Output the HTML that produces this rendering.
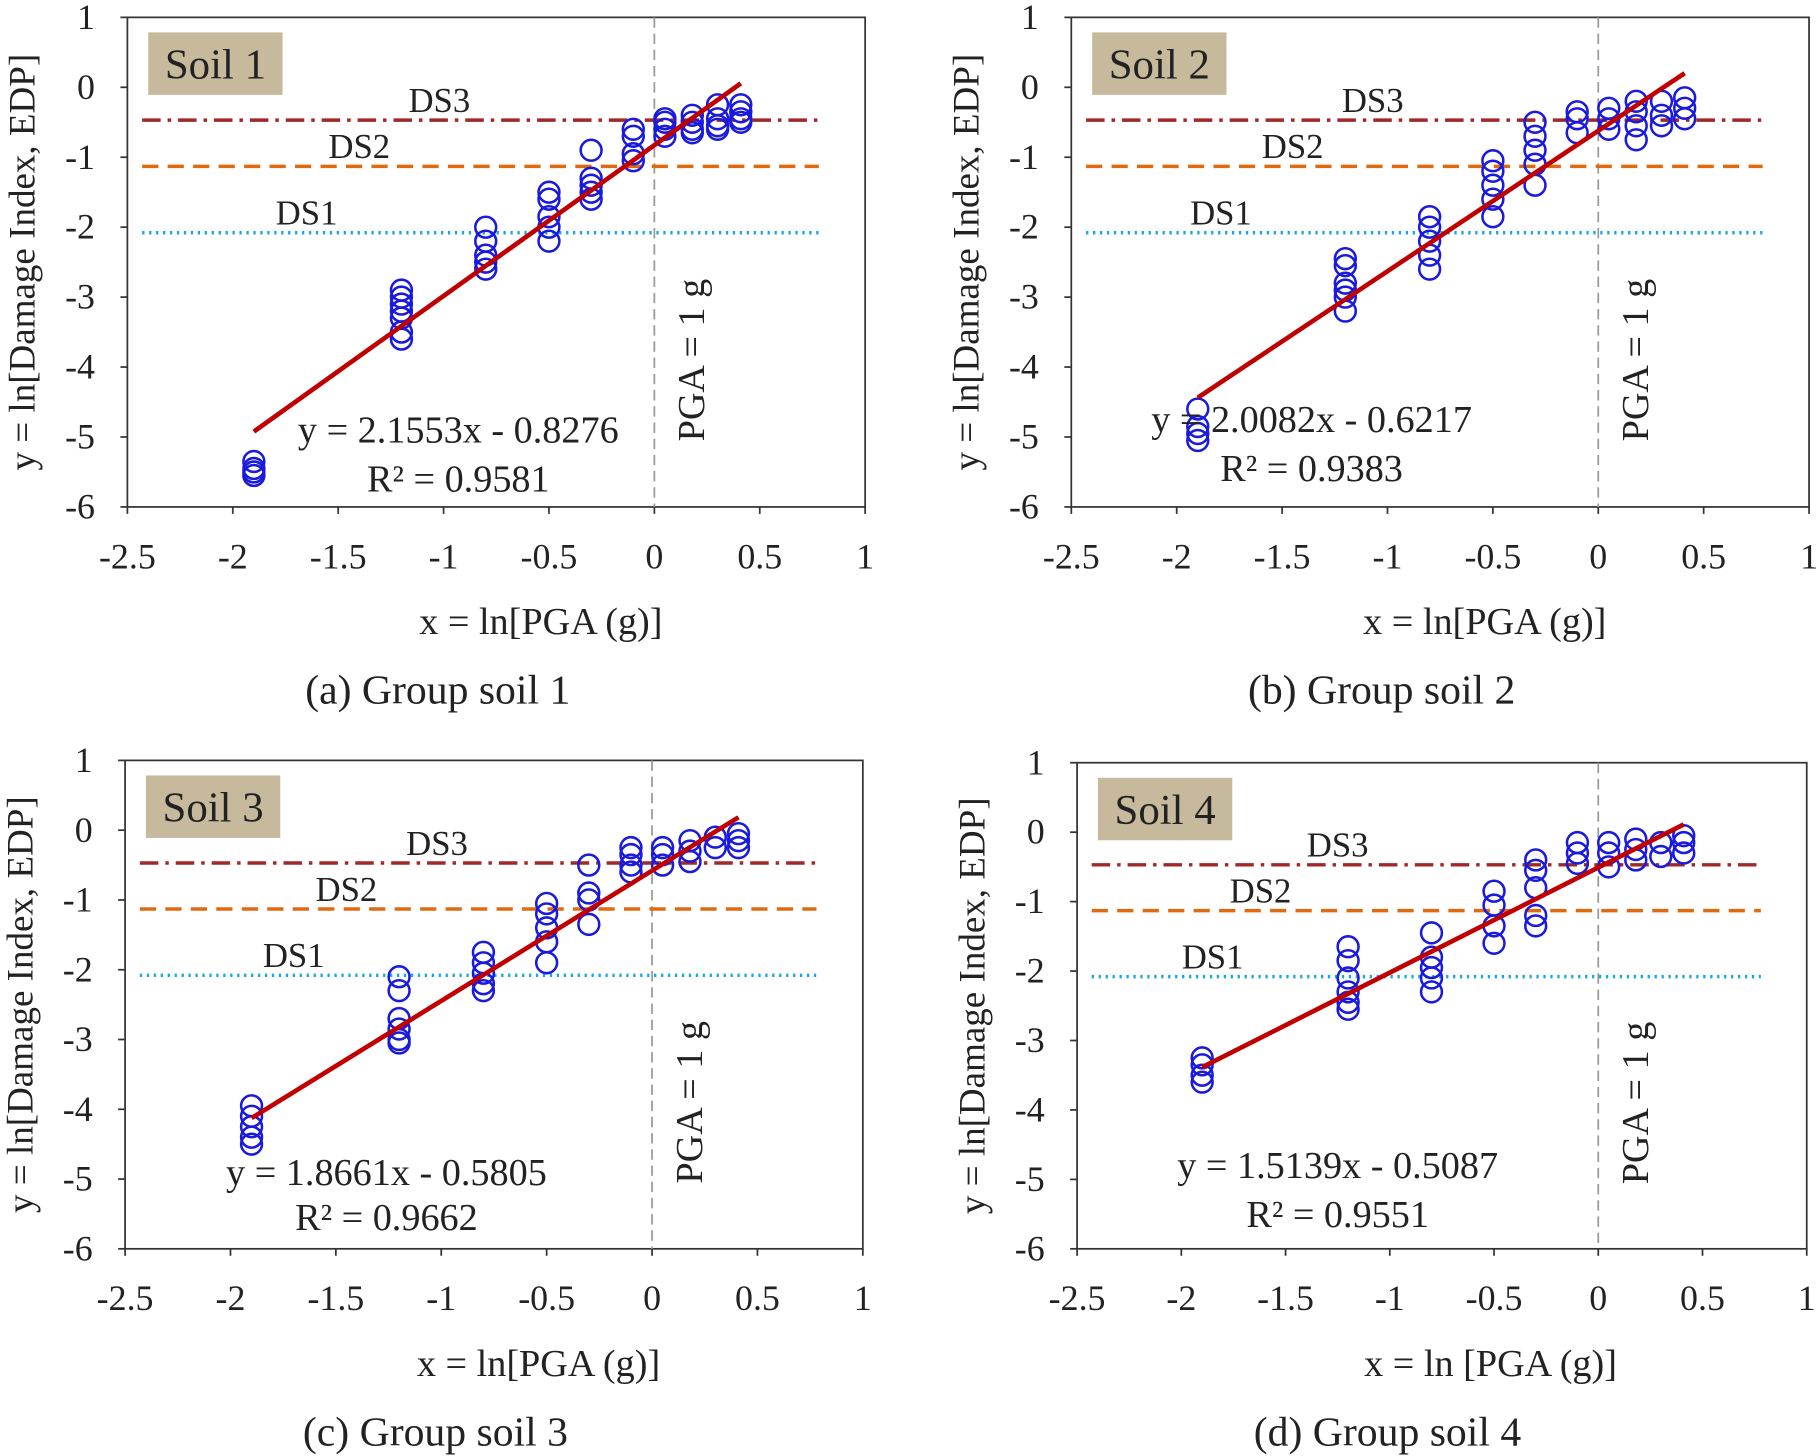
<!DOCTYPE html>
<html><head><meta charset="utf-8"><style>
html,body{margin:0;padding:0;background:#fff}
svg{display:block}
text{font-family:"Liberation Serif",serif;fill:#222}
</style></head><body>
<svg id="chart" width="1816" height="1456" viewBox="0 0 1568 1258" preserveAspectRatio="none" xmlns="http://www.w3.org/2000/svg"></svg>
<script>
const xCats = [-1.9,-1.2,-0.8,-0.5,-0.3,-0.1,0.05,0.18,0.3,0.41];
const soil1Y = [[-5.35,-5.45,-5.5,-5.55],[-2.9,-3.0,-3.1,-3.2,-3.3,-3.5,-3.6],[-2.0,-2.2,-2.4,-2.5,-2.6],[-1.5,-1.6,-1.85,-2.0,-2.2],[-0.9,-1.3,-1.4,-1.5,-1.6],[-0.6,-0.7,-0.95,-1.05],[-0.45,-0.5,-0.6,-0.7],[-0.4,-0.5,-0.6,-0.65],[-0.25,-0.45,-0.55,-0.6],[-0.25,-0.35,-0.45,-0.5]];
const soil2Y = [[-4.6,-4.85,-4.95,-5.05],[-2.45,-2.55,-2.8,-2.9,-3.0,-3.2],[-1.85,-2.0,-2.2,-2.4,-2.6],[-1.05,-1.2,-1.4,-1.6,-1.85],[-0.5,-0.7,-0.9,-1.1,-1.4],[-0.35,-0.45,-0.65],[-0.3,-0.45,-0.6],[-0.2,-0.35,-0.55,-0.75],[-0.2,-0.4,-0.55],[-0.15,-0.3,-0.45]];
const soil3Y = [[-3.95,-4.1,-4.25,-4.4,-4.5],[-2.1,-2.3,-2.7,-2.85,-3.0,-3.05],[-1.75,-1.9,-2.05,-2.2,-2.3],[-1.05,-1.2,-1.4,-1.6,-1.9],[-0.5,-0.9,-1.0,-1.35],[-0.25,-0.35,-0.5,-0.6],[-0.25,-0.35,-0.5],[-0.15,-0.3,-0.45],[-0.1,-0.25],[-0.05,-0.15,-0.25]];
const soil4Y = [[-3.25,-3.35,-3.5,-3.6],[-1.65,-1.85,-2.1,-2.3,-2.45,-2.55],[-1.45,-1.8,-1.95,-2.1,-2.3],[-0.85,-1.05,-1.35,-1.6],[-0.4,-0.55,-0.8,-1.2,-1.35],[-0.15,-0.3,-0.45],[-0.15,-0.3,-0.5],[-0.1,-0.25,-0.4],[-0.15,-0.35],[-0.05,-0.15,-0.3]];
const slopes = [2.1553,2.0082,1.8661,1.5139];
const intercepts = [-0.8276,-0.6217,-0.5805,-0.5087];
const r2s = ["0.9581","0.9383","0.9662","0.9551"];
const dsLevels = [-2.08,-1.13,-0.47];
const dsNames = ["DS1","DS2","DS3"];
const xTicks = [-2.5,-2,-1.5,-1,-0.5,0,0.5,1];
const xTickLabels = ["-2.5","-2","-1.5","-1","-0.5","0","0.5","1"];
const yTicks = [1,0,-1,-2,-3,-4,-5,-6];
const yTickLabels = ["1","0","-1","-2","-3","-4","-5","-6"];
const captions = ["(a) Group soil 1","(b) Group soil 2","(c) Group soil 3","(d) Group soil 4"];
const xTitles = ["x = ln[PGA (g)]","x = ln[PGA (g)]","x = ln[PGA (g)]","x = ln [PGA (g)]"];

const panels = [
 {L:110,R:747,T:15,B:438,data:soil1Y,ds:[-1.65,-1.4,-1.02],eq:[-0.93,-4.9,-5.6]},
 {L:925,R:1562,T:15,B:438,data:soil2Y,ds:[-1.79,-1.45,-1.07],eq:[-1.36,-4.75,-5.45]},
 {L:108,R:745,T:657,B:1079,data:soil3Y,ds:[-1.7,-1.45,-1.02],eq:[-1.26,-4.9,-5.55]},
 {L:930,R:1560,T:659,B:1079,data:soil4Y,ds:[-1.85,-1.62,-1.25],eq:[-1.25,-4.8,-5.5]}
];
const NS="http://www.w3.org/2000/svg";
const svg=document.getElementById('chart');
function mk(tag,attrs,parent,txt){const e=document.createElementNS(NS,tag);for(const k in attrs)e.setAttribute(k,attrs[k]);if(txt!==undefined)e.textContent=txt;parent.appendChild(e);return e;}
const dsStyle=[{c:"#19a8e0",d:"2 4",w:3},{c:"#e06a10",d:"14 8",w:3},{c:"#a02828",d:"16 6 3 6",w:3}];
panels.forEach((p,i)=>{
  const g=mk('g',{},svg);
  
  
  const sx=v=>p.L+(v+2.5)/3.5*(p.R-p.L);
  const sy=v=>p.T+(1-v)/7*(p.B-p.T);
  const frame=mk('rect',{x:p.L,y:p.T,width:p.R-p.L,height:p.B-p.T,fill:'none',stroke:'#333','stroke-width':1.5},g);
  
  
  xTicks.forEach((t,k)=>{
    mk('line',{x1:sx(t),x2:sx(t),y1:p.B,y2:p.B+6,stroke:'#333','stroke-width':1.5},g);
    const tl=mk('text',{x:sx(t),y:p.B+53,'font-size':31,'text-anchor':'middle'},g,xTickLabels[k]);
    
    
  });
  yTicks.forEach((t,k)=>{
    mk('line',{x1:p.L-6,x2:p.L,y1:sy(t),y2:sy(t),stroke:'#333','stroke-width':1.5},g);
    const tl=mk('text',{x:p.L-28,y:sy(t)+10,'font-size':31,'text-anchor':'end'},g,yTickLabels[k]);
    
    
  });
  mk('line',{x1:sx(0),x2:sx(0),y1:p.T,y2:p.B,stroke:'#999','stroke-width':1.5,'stroke-dasharray':'9 5'},g);
  const pg=mk('text',{x:0,y:0,'font-size':33,'text-anchor':'middle',transform:`translate(${sx(0)+43},${sy(-3.9)}) rotate(-90)`},g,'PGA = 1 g');
  
  
  dsLevels.forEach((lv,k)=>{
    const ln=mk('line',{x1:sx(-2.43),x2:sx(0.78),y1:sy(lv),y2:sy(lv),stroke:dsStyle[k].c,'stroke-width':dsStyle[k].w,'stroke-dasharray':dsStyle[k].d},g);
    
    
    const lt=mk('text',{x:sx(p.ds[k]),y:sy(lv)-7,'font-size':30,'text-anchor':'middle'},g,dsNames[k]);
    
    
  });
  p.data.forEach((ys,k)=>{ys.forEach(v=>{
    const c=mk('circle',{cx:sx(xCats[k]),cy:sy(v),r:9,fill:'none',stroke:'#1a1adf','stroke-width':2.2},g);
    
    
  });});
  const x0=xCats[0],x1=xCats[xCats.length-1];
  const fl=mk('line',{x1:sx(x0),y1:sy(slopes[i]*x0+intercepts[i]),x2:sx(x1),y2:sy(slopes[i]*x1+intercepts[i]),stroke:'#c00000','stroke-width':4},g);
  
  
  const eqT=mk('text',{x:sx(p.eq[0]),y:sy(p.eq[1])+11,'font-size':33,'text-anchor':'middle'},g,`y = ${slopes[i].toFixed(4)}x - ${Math.abs(intercepts[i]).toFixed(4)}`);
  
  
  const r2T=mk('text',{x:sx(p.eq[0]),y:sy(p.eq[2])+11,'font-size':33,'text-anchor':'middle'},g,`R² = ${r2s[i]}`);
  
  
  const bx=mk('rect',{x:p.L+18,y:p.T+13,width:116,height:54,fill:'#c7b99b'},g);
  
  
  const st=mk('text',{x:p.L+76,y:p.T+53,'font-size':37,'text-anchor':'middle'},g,'Soil '+(i+1));
  
  
  const yt=mk('text',{x:0,y:0,'font-size':32,'text-anchor':'middle',transform:`translate(${p.L-80},${(p.T+p.B)/2}) rotate(-90)`},g,'y = ln[Damage  Index,  EDP]');
  
  
  const xt=mk('text',{x:p.L+357,y:p.B+110,'font-size':33,'text-anchor':'middle'},g,xTitles[i]);
  
  
  const cp=mk('text',{x:p.L+268,y:p.B+170,'font-size':36,'text-anchor':'middle'},g,captions[i]);
  
  
});
</script>
</body></html>
